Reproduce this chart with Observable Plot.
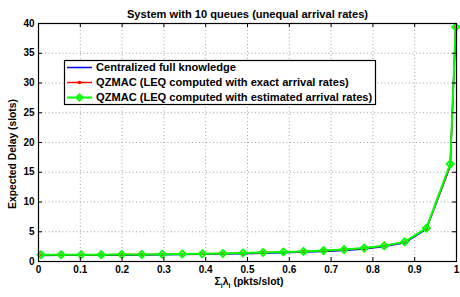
<!DOCTYPE html>
<html>
<head>
<meta charset="utf-8">
<script src="https://cdn.jsdelivr.net/npm/d3@7"></script>
<script src="https://cdn.jsdelivr.net/npm/@observablehq/plot@0.6"></script>
<style>
  html, body { margin: 0; padding: 0; background: #fff; }
  #chart svg { display: block; }
</style>
</head>
<body>
<div id="chart"></div>
<script>
// ---- data ----
const lambdaSum = [0.006, 0.054, 0.102, 0.150, 0.199, 0.247, 0.296, 0.344, 0.392, 0.441, 0.489,
                   0.537, 0.586, 0.634, 0.682, 0.731, 0.779, 0.827, 0.876, 0.928, 0.985, 0.998];
const delayCentral = [1.02, 1.03, 1.04, 1.05, 1.07, 1.09, 1.12, 1.16, 1.20, 1.25, 1.32,
                      1.40, 1.48, 1.58, 1.70, 1.86, 2.10, 2.50, 3.15, 5.45, 16.0, 39.3];
const delayExact   = [1.12, 1.12, 1.13, 1.14, 1.16, 1.18, 1.21, 1.25, 1.30, 1.34, 1.42,
                      1.50, 1.59, 1.69, 1.82, 1.99, 2.24, 2.63, 3.28, 5.55, 16.1, 39.4];
const delayEst     = [1.13, 1.13, 1.14, 1.15, 1.17, 1.19, 1.22, 1.26, 1.30, 1.35, 1.43,
                      1.51, 1.60, 1.70, 1.83, 2.00, 2.25, 2.65, 3.30, 5.60, 16.4, 39.4];
const xTicks = [0, 0.1, 0.2, 0.3, 0.4, 0.5, 0.6, 0.7, 0.8, 0.9, 1];
const yTicks = [0, 5, 10, 15, 20, 25, 30, 35, 40];
const seriesNames = [
  "Centralized full knowledge",
  "QZMAC (LEQ computed with exact arrival rates)",
  "QZMAC (LEQ computed with estimated arrival rates)"
];
const seriesColors = ["#0000ff", "#ff0000", "#00ff00"];
const titleText = "System with 10 queues (unequal arrival rates)";
const yLabelText = "Expected Delay (slots)";

const rows = (ys) => lambdaSum.map((x, i) => ({x, y: ys[i]}));
const central = rows(delayCentral);
const exact = rows(delayExact);
const est = rows(delayEst);

const W = 460, H = 297;
const mL = 38, mR = 4, mT = 23, mB = 36;
const fw = W - mL - mR, fh = H - mT - mB;
const font = "'Liberation Sans', Arial, Helvetica, sans-serif";

const chart = Plot.plot({
  width: W, height: H,
  marginLeft: mL, marginRight: mR, marginTop: mT, marginBottom: mB,
  style: {fontFamily: font, fontSize: "10px", fontWeight: "bold", background: "#fff", overflow: "visible"},
  x: {domain: [0, 1]},
  y: {domain: [0, 40]},
  marks: [
    Plot.gridX(xTicks, {stroke: "#8c8c8c", strokeOpacity: 1, strokeWidth: 0.8, strokeDasharray: "1,2.5"}),
    Plot.gridY(yTicks, {stroke: "#8c8c8c", strokeOpacity: 1, strokeWidth: 0.8, strokeDasharray: "1,2.5"}),
    Plot.line(central, {x: "x", y: "y", stroke: seriesColors[0], strokeWidth: 1.5}),
    Plot.line(exact, {x: "x", y: "y", stroke: seriesColors[1], strokeWidth: 1.5}),
    Plot.dot(exact, {x: "x", y: "y", fill: seriesColors[1], r: 1.6, stroke: "none"}),
    Plot.line(est, {x: "x", y: "y", stroke: seriesColors[2], strokeWidth: 2}),
    Plot.dot(est, {x: "x", y: "y", symbol: "diamond2", r: 3.2, stroke: seriesColors[2], strokeWidth: 1.8, fill: "none"}),
    Plot.frame({stroke: "#000", strokeWidth: 1.2}),
    // inward ticks (MATLAB style) on all four sides
    Plot.tickX(xTicks, {x: d => d, insetTop: fh - 4, stroke: "#000"}),
    Plot.tickX(xTicks, {x: d => d, insetBottom: fh - 4, stroke: "#000"}),
    Plot.tickY(yTicks, {y: d => d, insetRight: fw - 4, stroke: "#000"}),
    Plot.tickY(yTicks, {y: d => d, insetLeft: fw - 4, stroke: "#000"}),
    Plot.axisX(xTicks, {tickSize: 0, tickPadding: 4, tickFormat: d => String(d), label: null, fontSize: 10, fontWeight: "bold"}),
    Plot.axisY(yTicks, {tickSize: 0, tickPadding: 4, tickFormat: d => String(d), label: null, fontSize: 10, fontWeight: "bold"}),
    Plot.text([titleText], {frameAnchor: "top", dy: -13, fontSize: 11.1, fontWeight: "bold", fill: "#000"})
  ]
});

document.getElementById("chart").appendChild(chart);

// ---- annotations: axis labels and legend ----
const svg = d3.select(chart);
const ann = svg.append("g").attr("font-family", font).attr("fill", "#000");

// y label
ann.append("text")
  .attr("transform", `translate(16,${mT + fh / 2 + 12}) rotate(-90)`)
  .attr("text-anchor", "middle")
  .attr("font-size", 10.3).attr("font-weight", "bold")
  .text(yLabelText);

// x label with subscripts
const xl = ann.append("text")
  .attr("x", mL + fw / 2 + 2).attr("y", 285)
  .attr("text-anchor", "middle")
  .attr("font-size", 10.5);
xl.append("tspan").text("Σ");
xl.append("tspan").attr("font-size", 7).attr("dy", 2.5).text("i");
xl.append("tspan").attr("dy", -2.5).text("λ");
xl.append("tspan").attr("font-size", 7).attr("dy", 2.5).text("i");
xl.append("tspan").attr("dy", -2.5).attr("font-weight", "bold").text(" (pkts/slot)");

// legend
const lg = ann.append("g");
lg.append("rect").attr("x", 64.5).attr("y", 60.5).attr("width", 311).attr("height", 44)
  .attr("fill", "#fff").attr("stroke", "#000").attr("stroke-width", 1.2);
const rowY = [67.5, 82.5, 97.5];
seriesNames.forEach((name, i) => {
  const y = rowY[i];
  lg.append("line").attr("x1", 67).attr("x2", 92).attr("y1", y).attr("y2", y)
    .attr("stroke", seriesColors[i]).attr("stroke-width", i === 2 ? 2 : 1.5);
  if (i === 1) {
    lg.append("circle").attr("cx", 79.5).attr("cy", y).attr("r", 1.8).attr("fill", seriesColors[1]);
  }
  if (i === 2) {
    lg.append("path").attr("d", `M79.5,${y - 3.2}L82.7,${y}L79.5,${y + 3.2}L76.3,${y}Z`)
      .attr("fill", "none").attr("stroke", seriesColors[2]).attr("stroke-width", 1.8);
  }
  lg.append("text").attr("x", 96).attr("y", y).attr("dy", "0.35em")
    .attr("text-anchor", "start")
    .attr("font-size", 11.1).attr("font-weight", "bold").text(name);
});
</script>
</body>
</html>
